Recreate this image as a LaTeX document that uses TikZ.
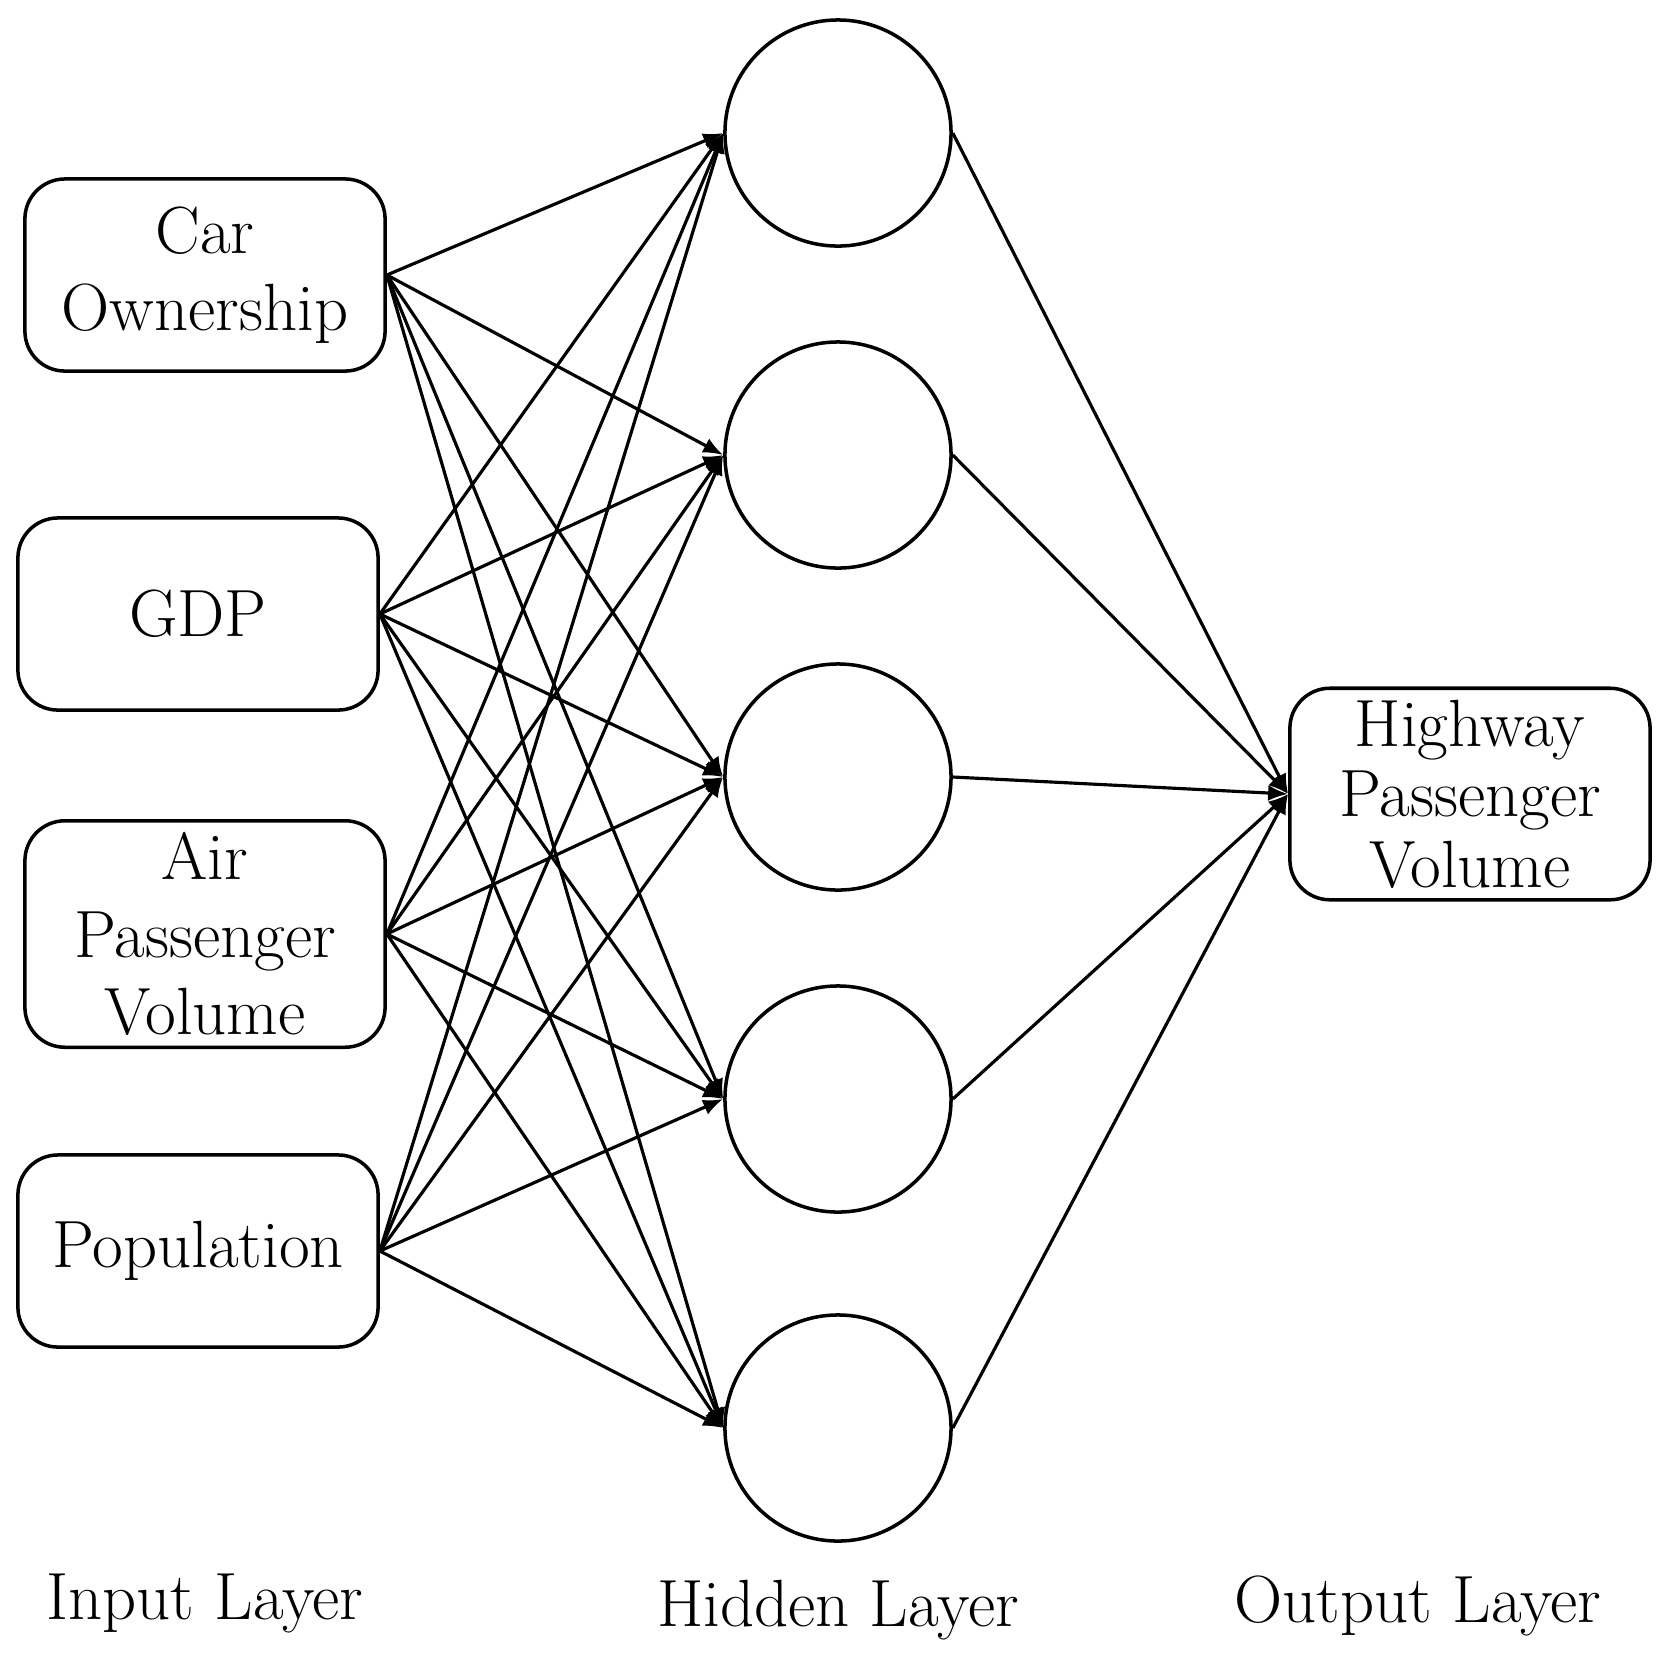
\documentclass[tikz,border=0pt]{standalone}
\usetikzlibrary{arrows.meta}
\usetikzlibrary{positioning}

\begin{document}
\begin{tikzpicture}
  [x=0.01cm, y=-0.01cm,
   box/.style={draw, line width=1pt, rounded corners=4mm, minimum width=3.6cm,
       minimum height=1.92cm, align=center, font=\fontsize{19}{22}\selectfont},
   neuron/.style={draw, line width=1pt, circle, minimum size=2.26cm},
   link/.style={line width=0.9pt, -{Latex[length=2mm,width=1.6mm]}},
   lbl/.style={font=\fontsize{19}{22}\selectfont}]
  \useasboundingbox (0,0) rectangle (1662,1659);
  % input layer
  \node[box] (car) at (205,275) {Car\\Ownership};
  \node[box] (gdp) at (198,614) {GDP};
  \node[box] (air) at (205,934) {Air\\Passenger\\Volume};
  \node[box] (pop) at (198,1251) {Population};
  % hidden layer
  \foreach \i/\y in {1/133,2/455,3/777,4/1099,5/1428}
    \node[neuron] (h\i) at (838,\y) {};
  % output layer
  \node[box, font=\fontsize{19}{20}\selectfont] (out) at (1470,794) {Highway\\Passenger\\Volume};
  % connections
  \foreach \s in {car,gdp,air,pop}
    \foreach \i in {1,...,5}
      \draw[link] (\s.east) -- (h\i.west);
  \foreach \i in {1,...,5}
    \draw[link] (h\i.east) -- (out.west);
  % layer labels
  \node[lbl] (inl) at (205,1603) {Input Layer};
  \node[lbl] (hidl) at (838,1610) {Hidden Layer};
  \node[lbl] (outl) at (1418,1606) {Output Layer};
\end{tikzpicture}
\end{document}
